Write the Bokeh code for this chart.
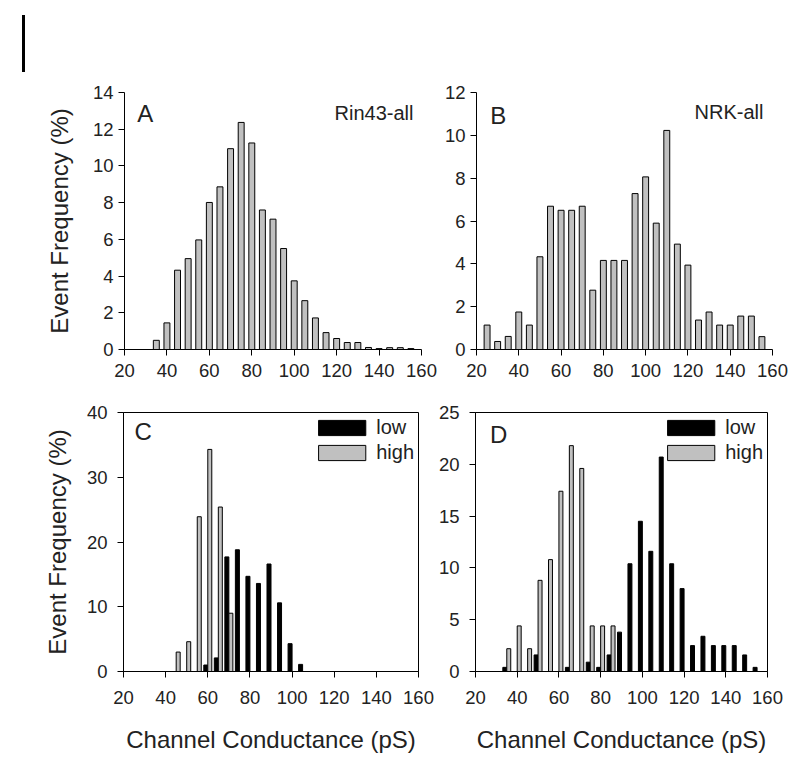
from bokeh.plotting import figure
from bokeh.models import (Range1d, FixedTicker, Label, Legend, LegendItem, Div,
                          ColumnDataSource)
from bokeh.layouts import row, column
from bokeh.transform import dodge
from bokeh.embed import file_html
from bokeh.resources import INLINE

FONT = "Liberation Sans"
TXT = "#222222"
GRAY = "#c0c0c0"

x_ticks = [20, 40, 60, 80, 100, 120, 140, 160]

# Panel A: Rin43-all
a_bins = [35, 40, 45, 50, 55, 60, 65, 70, 75, 80, 85, 90, 95, 100, 105, 110,
          115, 120, 125, 130, 135, 140, 145, 150, 155]
a_vals = [0.5, 1.45, 4.32, 4.95, 5.97, 8.01, 8.86, 10.94, 12.37, 11.25, 7.6,
          7.1, 5.5, 3.74, 2.66, 1.72, 0.92, 0.6, 0.38, 0.38, 0.11, 0.05, 0.1,
          0.1, 0.05]
a_yticks = [0, 2, 4, 6, 8, 10, 12, 14]

# Panel B: NRK-all
b_bins = [25, 30, 35, 40, 45, 50, 55, 60, 65, 70, 75, 80, 85, 90, 95, 100,
          105, 110, 115, 120, 125, 130, 135, 140, 145, 150, 155]
b_vals = [1.14, 0.375, 0.61, 1.75, 1.14, 4.33, 6.69, 6.5, 6.5, 6.69, 2.77,
          4.16, 4.16, 4.16, 7.28, 8.06, 5.9, 10.23, 4.92, 3.94, 1.375, 1.75,
          1.14, 1.14, 1.56, 1.56, 0.6]
b_yticks = [0, 2, 4, 6, 8, 10, 12]

# Panel C: Rin43 low / high
c_bins = [45, 50, 55, 60, 65, 70, 75, 80, 85, 90, 95, 100, 105]
c_low = [0, 0, 0, 1.0, 2.1, 17.7, 18.8, 14.7, 13.6, 16.6, 10.6, 4.3, 1.1]
c_high = [3.0, 4.6, 23.9, 34.3, 25.4, 9.0, 0, 0, 0, 0, 0, 0, 0]
c_yticks = [0, 10, 20, 30, 40]

# Panel D: NRK low / high
d_bins = [35, 40, 45, 50, 55, 60, 65, 70, 75, 80, 85, 90, 95, 100, 105, 110,
          115, 120, 125, 130, 135, 140, 145, 150, 155]
d_low = [0.4, 0, 0, 1.6, 0, 0, 0.4, 0, 0.9, 0.4, 1.6, 3.8, 10.4, 14.5, 11.6,
         20.7, 10.4, 8.0, 2.5, 3.4, 2.5, 2.5, 2.5, 1.6, 0.4]
d_high = [2.2, 4.4, 2.2, 8.8, 10.8, 17.4, 21.8, 19.6, 4.4, 4.4, 4.4, 0, 0, 0,
          0, 0, 0, 0, 0, 0, 0, 0, 0, 0, 0]
d_yticks = [0, 5, 10, 15, 20, 25]

y_label = "Event Frequency (%)"
x_label = "Channel Conductance (pS)"


def src(bins, vals):
    pairs = [(b, v) for b, v in zip(bins, vals) if v > 0]
    return ColumnDataSource(dict(bin=[p[0] for p in pairs],
                                 val=[p[1] for p in pairs]))


def make_fig(ymax, yticks, fw, fh, mbl, mbr, mbt, mbb, box,
             ylab=None, xlab=None, ystand=5, xstand=6, ylab_stand=16,
             xlab_stand=14):
    p = figure(x_range=Range1d(20, 160), y_range=Range1d(0, ymax),
               frame_width=fw, frame_height=fh,
               min_border_left=mbl, min_border_right=mbr,
               min_border_top=mbt, min_border_bottom=mbb,
               output_backend="svg", toolbar_location=None, tools="")
    p.grid.visible = False
    p.background_fill_color = "white"
    p.border_fill_color = "white"
    p.outline_line_color = "black" if box else None
    p.outline_line_width = 1
    p.xaxis.ticker = FixedTicker(ticks=x_ticks)
    p.yaxis.ticker = FixedTicker(ticks=yticks)
    for ax in (p.xaxis[0], p.yaxis[0]):
        ax.axis_line_color = "black"
        ax.axis_line_width = 1
        ax.major_tick_line_color = "black"
        ax.major_tick_out = 6
        ax.major_tick_in = 0
        ax.minor_tick_line_color = None
        ax.major_label_text_font = FONT
        ax.major_label_text_font_size = "18.5px"
        ax.major_label_text_color = TXT
        ax.axis_label_text_font = FONT
        ax.axis_label_text_font_size = "24px"
        ax.axis_label_text_font_style = "normal"
        ax.axis_label_text_color = TXT
    p.yaxis.major_label_standoff = ystand
    p.xaxis.major_label_standoff = xstand
    if ylab:
        p.yaxis.axis_label = ylab
        p.yaxis.axis_label_standoff = ylab_stand
    if xlab:
        p.xaxis.axis_label = xlab
        p.xaxis.axis_label_standoff = xlab_stand
    return p


def add_text(p, x, y, text, size, align="left"):
    p.add_layout(Label(x=x, y=y, text=text, text_font=FONT,
                       text_font_size=size, text_color=TXT,
                       text_align=align, text_baseline="alphabetic"))


def add_legend(p, r_low, r_high):
    leg = Legend(items=[LegendItem(label="low", renderers=[r_low]),
                        LegendItem(label="high", renderers=[r_high])],
                 location="top_right", margin=4, padding=1, spacing=2,
                 glyph_width=59, glyph_height=19, label_height=23,
                 label_standoff=5, label_text_font=FONT,
                 label_text_font_size="20px", label_text_color=TXT,
                 border_line_color=None, background_fill_alpha=0)
    p.add_layout(leg)


# ---- Panel A ----
pa = make_fig(14, a_yticks, 297, 257, 99, 16, 92, 40, False, ylab=y_label,
              ystand=5, xstand=8, ylab_stand=17)
pa.vbar(x="bin", top="val", width=2.8, source=src(a_bins, a_vals),
        fill_color=GRAY, line_color="black", line_width=1)
add_text(pa, 26.0, 12.86, "A", "24px")
add_text(pa, 156.2, 12.86, "Rin43-all", "20px", align="right")

# ---- Panel B ----
pb = make_fig(12, b_yticks, 296, 257, 39, 16, 92, 40, False,
              ystand=5, xstand=8)
pb.vbar(x="bin", top="val", width=2.8, source=src(b_bins, b_vals),
        fill_color=GRAY, line_color="black", line_width=1)
add_text(pb, 26.5, 10.93, "B", "24px")
add_text(pb, 155.7, 11.08, "NRK-all", "20px", align="right")

# ---- Panel C ----
pc = make_fig(40, c_yticks, 295, 259, 123, 16, 23, 88, True, ylab=y_label,
              xlab=x_label, ystand=10, xstand=13, ylab_stand=13,
              xlab_stand=19)
rc_low = pc.vbar(x=dodge("bin", -0.95, range=pc.x_range), top="val",
                 width=1.9, source=src(c_bins, c_low),
                 fill_color="black", line_color="black", line_width=1)
rc_high = pc.vbar(x=dodge("bin", 0.95, range=pc.x_range), top="val",
                  width=1.9, source=src(c_bins, c_high),
                  fill_color=GRAY, line_color="black", line_width=1)
add_legend(pc, rc_low, rc_high)
add_text(pc, 25.2, 37.0, "C", "24px")

# ---- Panel D ----
pd_ = make_fig(25, d_yticks, 292, 259, 41, 16, 23, 88, True, xlab=x_label,
               ystand=10, xstand=13, xlab_stand=19)
rd_low = pd_.vbar(x=dodge("bin", -0.95, range=pd_.x_range), top="val",
                  width=1.9, source=src(d_bins, d_low),
                  fill_color="black", line_color="black", line_width=1)
rd_high = pd_.vbar(x=dodge("bin", 0.95, range=pd_.x_range), top="val",
                   width=1.9, source=src(d_bins, d_high),
                   fill_color=GRAY, line_color="black", line_width=1)
add_legend(pd_, rd_low, rd_high)
add_text(pd_, 27.0, 22.86, "D", "24px")

mark = Div(text="", width=3, height=57, margin=(15, 0, 0, 22),
           styles={"background-color": "black"})

layout = column(row(mark, pa, pb), row(pc, pd_))

open("out.html", "w").write(file_html(layout, INLINE))
